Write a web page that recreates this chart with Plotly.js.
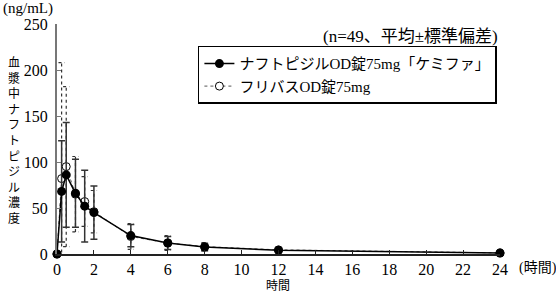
<!DOCTYPE html>
<html>
<head>
<meta charset="utf-8">
<script src="https://cdn.plot.ly/plotly-3.0.1.min.js"></script>
<style>html,body{margin:0;padding:0;background:#fff;}#chart{width:556px;height:294px;}</style>
</head>
<body>
<div id="chart"></div>
<script>
// ---- data ----
const times = [0, 0.25, 0.5, 1, 1.5, 2, 4, 6, 8, 12, 24];
const meanKemifa = [0, 68, 86, 66, 52, 45, 20, 12, 7.5, 4, 1];
const sdKemifa   = [0, 55, 57, 37, 39, 29, 12, 7, 4, 2.5, 1];
const meanFlivas = [0, 82, 95, 65, 57, 46, 19, 12, 8, 4.5, 1.2];
const sdFlivas   = [0, 126, 87, 41, 27, 23, 14, 8, 4.5, 3, 1];
const nameKemifa = 'ナフトピジルOD錠75mg「ケミファ」';
const nameFlivas = 'フリバスOD錠75mg';
const xTicks = [0, 2, 4, 6, 8, 10, 12, 14, 16, 18, 20, 22, 24];
const yTicks = [0, 50, 100, 150, 200, 250];
const yTitle = '血漿中ナフトピジル濃度';

const SERIF = "Liberation Serif";
const FONT = "Liberation Serif, Noto Sans CJK JP";
const CJK = "Noto Sans CJK JP";

// dashed error bars for Flivas built from the data
const capHalf = 0.17;
const ex = [], ey = [];
times.forEach((t, i) => {
  const s = sdFlivas[i];
  if (!s) return;
  const lo = meanFlivas[i] - s, hi = meanFlivas[i] + s;
  ex.push(t, t, null, t - capHalf, t + capHalf, null, t - capHalf, t + capHalf, null);
  ey.push(lo, hi, null, hi, hi, null, lo, lo, null);
});

const traces = [
  {x: ex, y: ey, mode: 'lines', showlegend: false, hoverinfo: 'skip', cliponaxis: false,
   line: {color: '#333', width: 1.2, dash: 'dot'}},
  {x: times, y: meanFlivas, name: nameFlivas, mode: 'lines+markers', legendrank: 2, cliponaxis: false,
   line: {color: '#555', width: 1, dash: 'dot'},
   marker: {symbol: 'circle', size: 8, color: '#fff', line: {color: '#000', width: 1}}},
  {x: times, y: meanKemifa, name: nameKemifa, mode: 'lines+markers', legendrank: 1, cliponaxis: false,
   line: {color: '#000', width: 1.5},
   marker: {symbol: 'circle', size: 9, color: '#000'},
   error_y: {type: 'data', array: sdKemifa, visible: true, color: '#333', thickness: 1.5, width: 3.5}}
];

const annotations = [
  {text: '(ng/mL)', xref: 'paper', yref: 'paper', x: -0.126, y: 1.068, xanchor: 'left', yanchor: 'middle', showarrow: false, font: {family: SERIF, size: 15, color: '#000'}},
  {text: '(n=49、平均±標準偏差)', xref: 'paper', yref: 'paper', x: 1.0, y: 0.945, xanchor: 'right', yanchor: 'middle', showarrow: false, font: {family: FONT, size: 17, color: '#000'}},
  {text: '(時間)', xref: 'paper', yref: 'paper', x: 1.038, y: -0.061, xanchor: 'left', yanchor: 'middle', showarrow: false, font: {family: FONT, size: 14, color: '#000'}},
  {text: '時間', xref: 'paper', yref: 'paper', x: 0.499, y: -0.134, xanchor: 'center', yanchor: 'middle', showarrow: false, borderpad: 0, font: {family: CJK, size: 12, color: '#000'}},
  {text: Array.from(yTitle).join('<br>'), xref: 'paper', yref: 'paper', x: (14 - 57) / 443, y: (254 - 139) / 230,
    xanchor: 'center', yanchor: 'middle', showarrow: false, font: {family: CJK, size: 12, color: '#000'}}
];

const layout = {
  width: 556, height: 294,
  margin: {l: 57, r: 56, t: 24, b: 40, pad: 0},
  paper_bgcolor: '#fff', plot_bgcolor: '#fff',
  showlegend: true,
  legend: {x: 0.993, y: 0.905, xanchor: 'right', yanchor: 'top', bgcolor: '#fff',
    bordercolor: '#000', borderwidth: 1.5, font: {family: FONT, size: 15, color: '#000'},
    itemwidth: 30, tracegroupgap: 0},
  xaxis: {range: [0, 24], tickvals: xTicks, ticktext: xTicks.map(String), showgrid: false, zeroline: false,
    showline: true, linecolor: '#222', linewidth: 1.5, ticks: 'inside', ticklen: 4, tickcolor: '#222', tickwidth: 1,
    tickfont: {family: SERIF, size: 16, color: '#000'}},
  yaxis: {range: [0, 250], tickvals: yTicks, ticktext: yTicks.map(String), showgrid: false, zeroline: false,
    showline: true, linecolor: '#777', linewidth: 2, ticks: 'inside', ticklen: 4, tickcolor: '#777', tickwidth: 1,
    tickfont: {family: SERIF, size: 16, color: '#000'}, ticklabelstandoff: 4},
  annotations: annotations
};

Plotly.newPlot('chart', traces, layout, {displayModeBar: false, staticPlot: true});
</script>
</body>
</html>
